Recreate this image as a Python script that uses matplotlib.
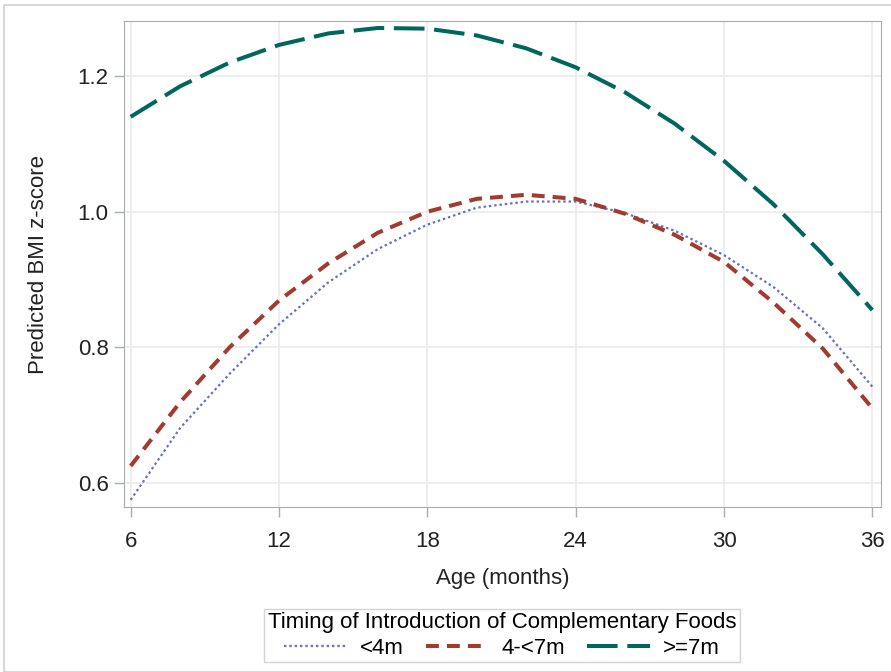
import matplotlib
matplotlib.use("Agg")
import matplotlib.pyplot as plt
from matplotlib.patches import Rectangle

plt.rcParams['font.family'] = ['Liberation Sans', 'DejaVu Sans']

# predicted BMI z-score, every 2 months
age = [6, 8, 10, 12, 14, 16, 18, 20, 22, 24, 26, 28, 30, 32, 34, 36]
lt4 = [0.575, 0.681, 0.761, 0.834, 0.896, 0.945, 0.981, 1.006, 1.015, 1.015,
       0.998, 0.972, 0.936, 0.889, 0.828, 0.742]
m4to7 = [0.625, 0.719, 0.800, 0.869, 0.924, 0.969, 1.000, 1.019, 1.025, 1.019,
         0.997, 0.966, 0.926, 0.866, 0.798, 0.710]
ge7 = [1.140, 1.185, 1.220, 1.246, 1.263, 1.271, 1.270, 1.260, 1.241, 1.213,
       1.176, 1.130, 1.075, 1.011, 0.937, 0.855]
series_names = ['<4m', '4-<7m', '>=7m']
xticks = [6, 12, 18, 24, 30, 36]
yticks = [0.6, 0.8, 1.0, 1.2]

fs = 16
fig = plt.figure(figsize=(8.91, 6.72), dpi=100)
fig.patches.append(Rectangle((4/891, 0), 1, 1 - 5/672, transform=fig.transFigure,
                             fill=False, edgecolor='#d0d0d0', lw=1.2))
ax = fig.add_axes([124/891, 1 - 507/672, 757/891, 486/672])

ax.plot(age, lt4, color='#6573b8', lw=1.6, dashes=(1.1, 1.3), label=series_names[0])
ax.plot(age, m4to7, color='#a23a2e', lw=2.9, dashes=(3.2, 2.0), label=series_names[1])
ax.plot(age, ge7, color='#01665e', lw=2.9, dashes=(7.6, 2.4), label=series_names[2])

ax.set_xlim(5.73, 36.35)
ax.set_ylim(0.5645, 1.2813)
ax.set_xticks(xticks)
ax.set_yticks(yticks)
ax.set_yticklabels(['0.6', '0.8', '1.0', '1.2'])
ax.grid(True, color='#ebebeb', lw=1.2)
ax.set_axisbelow(True)
for s in ax.spines.values():
    s.set_color('#a8acb0')
ax.tick_params(colors='#a8acb0', labelcolor='#222222', labelsize=fs, length=7, width=1)
ax.tick_params(axis='x', pad=10)
ax.tick_params(axis='y', pad=4)
ax.set_xlabel('Age (months)', fontsize=fs, color='#222222', labelpad=12)
ax.set_ylabel('Predicted BMI z-score', fontsize=16, color='#222222', labelpad=21)

leg = fig.legend(loc='center', bbox_to_anchor=(502/891, 1 - 635.5/672), ncol=3,
                 title='Timing of Introduction of Complementary Foods',
                 fontsize=fs, title_fontsize=fs, frameon=True, fancybox=False,
                 handlelength=2.8, handletextpad=0.6, columnspacing=1.0,
                 borderpad=0.15, labelspacing=0.2, borderaxespad=0)
leg.get_frame().set_edgecolor('#c8c8c8')
leg.get_frame().set_linewidth(1)

fig.savefig('out.png', dpi=100)
